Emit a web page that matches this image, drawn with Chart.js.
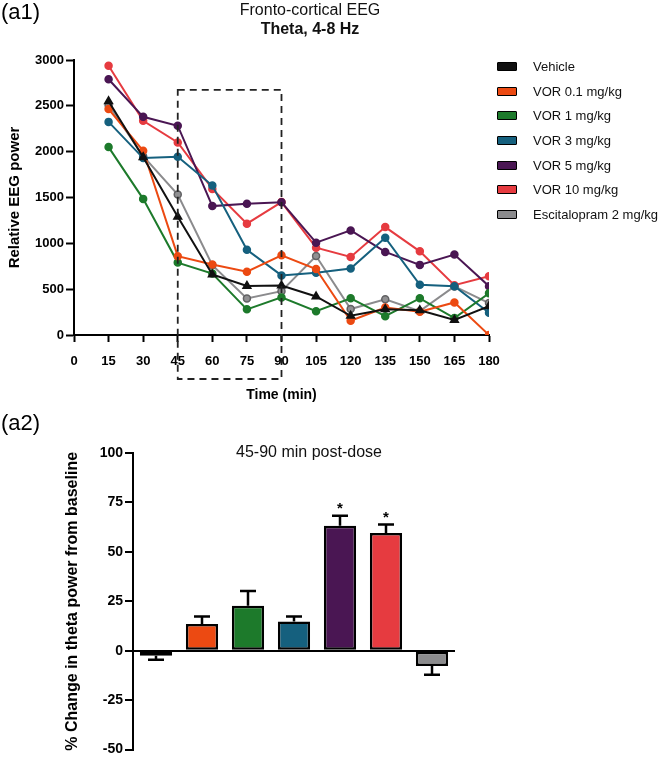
<!DOCTYPE html>
<html>
<head>
<meta charset="utf-8">
<script src="https://cdn.jsdelivr.net/npm/chart.js@4.4.1/dist/chart.umd.min.js"></script>
<style>
    body { margin: 0; background: #fff; font-family: "Liberation Sans", Arial, sans-serif; }
    #wrap { position: relative; width: 670px; height: 760px; }
    #c1 { position: absolute; left: 0; top: 0; }
    #c2 { position: absolute; left: 0; top: 410px; }
    .panel { position: absolute; font-size: 22px; color: #000; line-height: 22px; }
    #legend { position: absolute; left: 497px; top: 54px; }
    .item { height: 24.7px; display: flex; align-items: center; font-size: 13px; color: #111; white-space: nowrap; }
    .box { width: 18px; height: 7px; border: 1.5px solid #000; border-radius: 1px; margin-right: 16px; }
</style>
</head>
<body>
<div id="wrap">
    <canvas id="c1" width="670" height="410"></canvas>
    <canvas id="c2" width="670" height="350"></canvas>
    <div class="panel" style="left:1px; top:1px;">(a1)</div>
    <div class="panel" style="left:1px; top:412px;">(a2)</div>
    <div id="legend"></div>
</div>
<script>
// time points (min)
var times = [15, 30, 45, 60, 75, 90, 105, 120, 135, 150, 165, 180];

var groups = ['Vehicle', 'VOR 0.1 mg/kg', 'VOR 1 mg/kg', 'VOR 3 mg/kg', 'VOR 5 mg/kg', 'VOR 10 mg/kg', 'Escitalopram 2 mg/kg'];
var colors = ['#111111', '#ec4a12', '#1d7a2b', '#15607e', '#4a1653', '#e63b40', '#8b8b8d'];

// relative EEG power, theta band
var vehicle = [2550, 1940, 1290, 660, 535, 540, 420, 210, 280, 270, 165, 315];
var vor01   = [2465, 2010, 860, 770, 690, 870, 720, 155, 300, 255, 355, 0];
var vor1    = [2050, 1485, 790, 670, 280, 410, 260, 400, 205, 400, 185, 455];
var vor3    = [2325, 1930, 1945, 1630, 930, 650, 680, 725, 1062, 547, 533, 242];
var vor5    = [2790, 2380, 2283, 1406, 1431, 1449, 1007, 1141, 906, 765, 877, 533];
var vor10   = [2938, 2337, 2100, 1594, 1214, 1450, 953, 851, 1177, 913, 543, 641];
var escit   = [2510, 1950, 1533, 761, 399, 478, 862, 283, 390, 260, 530, 348];
var series = [vehicle, vor01, vor1, vor3, vor5, vor10, escit];

// dashed window 45-90 min
var winFrom = 45, winTo = 90, winTop = 2675;

// % change 45-90 min post-dose
var barMeans = [-2.5, 13.5, 22.8, 14.8, 63.2, 59.5, -7.7];
var barErr = [2.0, 3.8, 7.4, 2.5, 5.1, 4.3, 4.5];
var starred = [false, false, false, false, true, true, false];

var tickFont = { family: 'Liberation Sans', size: 13, weight: 'bold' };
var barTickFont = { family: 'Liberation Sans', size: 14, weight: 'bold' };

var datasets = [];
for (var i = 0; i < series.length; i++) {
    datasets.push({
        label: groups[i],
        data: series[i].map(function (v, j) { return { x: times[j], y: v }; }),
        borderColor: colors[i],
        backgroundColor: colors[i],
        pointBackgroundColor: i === 6 ? '#909092' : colors[i],
        pointBorderColor: i === 6 ? '#616163' : colors[i],
        pointBorderWidth: 1.5,
        borderWidth: 2,
        pointRadius: i === 0 ? 4.5 : 3.5,
        pointStyle: i === 0 ? 'triangle' : 'circle',
        tension: 0
    });
}

// html legend
var legendHtml = '';
for (var k = 0; k < groups.length; k++) {
    legendHtml += '<div class="item"><span class="box" style="background:' + colors[k] + '"></span>' + groups[k] + '</div>';
}
document.getElementById('legend').innerHTML = legendHtml;

var textPlugin = {
    id: 'texts',
    afterDraw: function (chart) {
        var ctx = chart.ctx;
        var items = chart.options.plugins.texts.items;
        ctx.save();
        ctx.textAlign = 'center';
        ctx.textBaseline = 'middle';
        items.forEach(function (t) {
            ctx.font = t.font;
            ctx.fillStyle = '#111';
            ctx.fillText(t.text, t.x, t.y);
        });
        ctx.restore();
    }
};

var windowPlugin = {
    id: 'windowBox',
    afterDatasetsDraw: function (chart) {
        var x = chart.scales.x, y = chart.scales.y, ctx = chart.ctx;
        var l = x.getPixelForValue(winFrom), r = x.getPixelForValue(winTo);
        var t = y.getPixelForValue(winTop), b = y.bottom + 44;
        ctx.save();
        ctx.setLineDash([7, 5]);
        ctx.lineWidth = 1.8;
        ctx.strokeStyle = '#222';
        ctx.strokeRect(l, t, r - l, b - t);
        ctx.restore();
    }
};

var errorPlugin = {
    id: 'errorBars',
    afterDatasetsDraw: function (chart) {
        var meta = chart.getDatasetMeta(0), y = chart.scales.y, ctx = chart.ctx;
        ctx.save();
        ctx.strokeStyle = '#000';
        ctx.lineWidth = 2.5;
        ctx.fillStyle = '#000';
        ctx.font = 'bold 15px "Liberation Sans"';
        ctx.textAlign = 'center';
        meta.data.forEach(function (bar, i) {
            var v = barMeans[i];
            var end = v >= 0 ? v + barErr[i] : v - barErr[i];
            var y1 = y.getPixelForValue(end);
            ctx.beginPath();
            ctx.moveTo(bar.x, bar.y);
            ctx.lineTo(bar.x, y1);
            ctx.moveTo(bar.x - 8, y1);
            ctx.lineTo(bar.x + 8, y1);
            ctx.stroke();
            if (starred[i]) ctx.fillText('*', bar.x, y1 - 3);
        });
        ctx.restore();
    }
};

new Chart(document.getElementById('c1'), {
    type: 'line',
    data: { datasets: datasets },
    plugins: [windowPlugin, textPlugin],
    options: {
        responsive: false,
        animation: false,
        layout: { padding: { left: 0, right: 181, top: 60, bottom: 0 } },
        plugins: {
            legend: { display: false },
            tooltip: { enabled: false },
            texts: {
                items: [
                    { text: 'Fronto-cortical EEG', x: 310, y: 11, font: '16px "Liberation Sans"' },
                    { text: 'Theta, 4-8 Hz', x: 310, y: 30, font: 'bold 16px "Liberation Sans"' }
                ]
            }
        },
        scales: {
            x: {
                type: 'linear', min: 0, max: 180,
                ticks: { stepSize: 15, font: tickFont, color: '#000', padding: 12 },
                grid: { drawOnChartArea: false, drawTicks: true, tickLength: 7, tickColor: '#000', tickWidth: 2 },
                border: { color: '#000', width: 2 },
                title: { display: true, text: 'Time (min)', font: { family: 'Liberation Sans', size: 14, weight: 'bold' }, color: '#000', padding: { top: 0, bottom: 6 } },
                afterFit: function (s) { s.height = 75; }
            },
            y: {
                min: 0, max: 3000,
                ticks: {
                    stepSize: 500, font: tickFont, color: '#000', padding: 2,
                    callback: function (v) { return String(v); }
                },
                grid: { drawOnChartArea: false, drawTicks: true, tickLength: 8, tickColor: '#000', tickWidth: 2 },
                border: { color: '#000', width: 2 },
                title: { display: true, text: 'Relative EEG power', font: { family: 'Liberation Sans', size: 15, weight: 'bold' }, color: '#000', padding: { top: 6, bottom: 0 } },
                afterFit: function (s) { s.width = 74; }
            }
        }
    }
});

new Chart(document.getElementById('c2'), {
    type: 'bar',
    data: {
        labels: groups,
        datasets: [{
            data: barMeans,
            backgroundColor: colors,
            borderColor: '#000',
            borderWidth: 2.5,
            borderSkipped: false,
            barPercentage: 0.7,
            categoryPercentage: 1
        }]
    },
    plugins: [errorPlugin, textPlugin],
    options: {
        responsive: false,
        animation: false,
        layout: { padding: { left: 55, right: 215, top: 43, bottom: 7 } },
        plugins: {
            legend: { display: false },
            tooltip: { enabled: false },
            texts: {
                items: [
                    { text: '45-90 min post-dose', x: 309, y: 43, font: '16px "Liberation Sans"' }
                ]
            }
        },
        scales: {
            x: { display: false },
            y: {
                min: -50, max: 100,
                ticks: { stepSize: 25, font: barTickFont, color: '#000', padding: 2 },
                grid: {
                    drawOnChartArea: true, drawTicks: true, tickLength: 8, tickColor: '#000', tickWidth: 2,
                    color: function (c) { return c.tick && c.tick.value === 0 ? '#000' : 'rgba(0,0,0,0)'; },
                    lineWidth: 2
                },
                border: { color: '#000', width: 2 },
                title: { display: true, text: '% Change in theta power from baseline', font: { family: 'Liberation Sans', size: 16, weight: 'bold' }, color: '#000', padding: { top: 8, bottom: 0 } },
                afterFit: function (s) { s.width = 78; }
            }
        }
    }
});
</script>
</body>
</html>
